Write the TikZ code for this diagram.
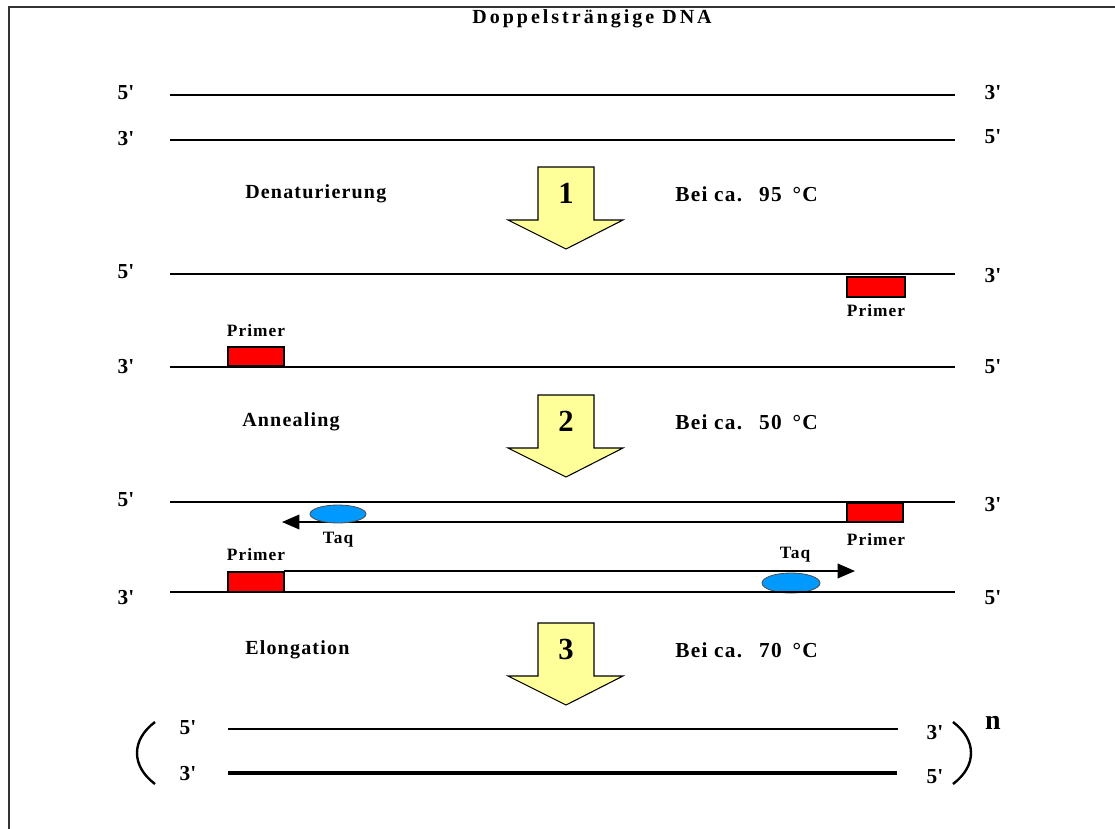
\documentclass[tikz,border=0pt]{standalone}
\usepackage{fontspec}
\setmainfont[LetterSpace=6]{Liberation Serif}
\newfontfamily\titlefont[LetterSpace=15]{Liberation Serif}
\newfontfamily\numfont{Liberation Serif}
\usetikzlibrary{arrows.meta}
\newcommand\primetick{\textquotesingle}
\newcommand\tempgap{\hspace{0.8em}}
\tikzset{
  stagelbl/.style={anchor=west, inner xsep=0pt, font=\fontsize{15}{17}\selectfont\bfseries},
  templbl/.style={anchor=west, inner xsep=0pt, font=\fontsize{16}{18}\selectfont\bfseries},
  endlbl/.style={font=\fontsize{16}{18}\selectfont\bfseries},
  smalllbl/.style={font=\fontsize{13}{15}\selectfont\bfseries},
  strand/.style={line width=1.1pt},
  primerbox/.style={draw, line width=0.8pt, fill={rgb,255:red,255;green,0;blue,0}},
  taqblob/.style={draw=black!70, line width=0.6pt, fill={rgb,255:red,0;green,153;blue,255}},
  stepshape/.style={draw, line width=0.8pt, fill={rgb,255:red,255;green,255;blue,153}},
  stepnum/.style={font=\numfont\fontsize{23}{25}\selectfont\bfseries},
  growth/.style={line width=1pt, -{Triangle[length=13pt,width=11pt]}}
}
\begin{document}
\begin{tikzpicture}[x=0.75pt,y=0.75pt,yscale=-1,xscale=1]
\useasboundingbox (0,0) rectangle (1115,829);

%Frame
\draw [line width=1.5pt, color=black!80] (9,829) -- (9,7) -- (1115,7) ;

%Title
\node [font=\titlefont\fontsize{15}{17}\selectfont\bfseries] (title) at (592,19) {Doppelsträngige DNA};

%Double strand
\node [endlbl] (ds5a) at (126,93) {5\primetick};
\node [endlbl] (ds3a) at (993,93) {3\primetick};
\draw [strand] (170,95) -- (955,95) ;
\node [endlbl] (ds3b) at (126,139) {3\primetick};
\node [endlbl] (ds5b) at (993,137) {5\primetick};
\draw [strand] (170,140) -- (955,140) ;

%Step 1
\draw [stepshape] (538,167) -- (594,167) -- (594,220) -- (623,220) -- (566,249) -- (508,220) -- (538,220) -- cycle ;
\node [stepnum] (num1) at (566,193) {1};
\node [stagelbl] (denat) at (245,194) {Denaturierung};
\node [templbl] (temp1) at (675,194) {Bei ca.\tempgap 95\hspace{0.2em} °C};

%Separated strands with primers
\node [endlbl] (sp5a) at (126,272) {5\primetick};
\node [endlbl] (sp3a) at (993,276) {3\primetick};
\draw [strand] (170,274) -- (955,274) ;
\draw [primerbox] (847,277) rectangle (905,297) ;
\node [smalllbl] (primA) at (876,311) {Primer};
\node [smalllbl] (primB) at (256,331) {Primer};
\draw [primerbox] (228,347) rectangle (284,366) ;
\node [endlbl] (sp3b) at (126,367) {3\primetick};
\node [endlbl] (sp5b) at (993,367) {5\primetick};
\draw [strand] (170,367) -- (955,367) ;

%Step 2
\draw [stepshape] (538,395) -- (594,395) -- (594,448) -- (623,448) -- (566,477) -- (508,448) -- (538,448) -- cycle ;
\node [stepnum] (num2) at (566,421) {2};
\node [stagelbl] (anneal) at (242,422) {Annealing};
\node [templbl] (temp2) at (675,422) {Bei ca.\tempgap 50\hspace{0.2em} °C};

%Elongating strands
\node [endlbl] (el5a) at (126,500) {5\primetick};
\node [endlbl] (el3a) at (993,505) {3\primetick};
\draw [strand] (170,502) -- (955,502) ;
\draw [primerbox] (847,503) rectangle (903,522) ;
\draw [growth] (847,522) -- (282,522) ;
\draw [taqblob] (338,514) ellipse [x radius=28, y radius=9] ;
\node [smalllbl] (taqA) at (338,540) {Taq};
\node [smalllbl] (primC) at (876,540) {Primer};
\node [smalllbl] (primD) at (256,555) {Primer};
\node [smalllbl] (taqB) at (795,555) {Taq};
\draw [growth] (284,571) -- (855,571) ;
\draw [primerbox] (228,572) rectangle (284,592) ;
\draw [taqblob] (791,583) ellipse [x radius=29, y radius=10] ;
\node [endlbl] (el3b) at (126,598) {3\primetick};
\node [endlbl] (el5b) at (993,598) {5\primetick};
\draw [strand] (170,592) -- (955,592) ;

%Step 3
\draw [stepshape] (538,623) -- (594,623) -- (594,676) -- (623,676) -- (566,705) -- (508,676) -- (538,676) -- cycle ;
\node [stepnum] (num3) at (566,649) {3};
\node [stagelbl] (elong) at (245,650) {Elongation};
\node [templbl] (temp3) at (675,650) {Bei ca.\tempgap 70\hspace{0.2em} °C};

%Product, n times
\draw [line width=1.8pt] (155,722) .. controls (131,740) and (131,766) .. (155,784) ;
\node [endlbl] (pr5a) at (188,728) {5\primetick};
\node [endlbl] (pr3b) at (188,774) {3\primetick};
\draw [strand] (228,729) -- (898,729) ;
\draw [line width=2.4pt] (228,773) -- (897,773) ;
\node [endlbl] (pr3a) at (935,733) {3\primetick};
\node [endlbl] (pr5b) at (935,777) {5\primetick};
\draw [line width=1.8pt] (953,722) .. controls (977,740) and (977,766) .. (953,784) ;
\node [font=\fontsize{21}{23}\selectfont\bfseries] (cycles) at (993,723) {n};

\end{tikzpicture}
\end{document}
